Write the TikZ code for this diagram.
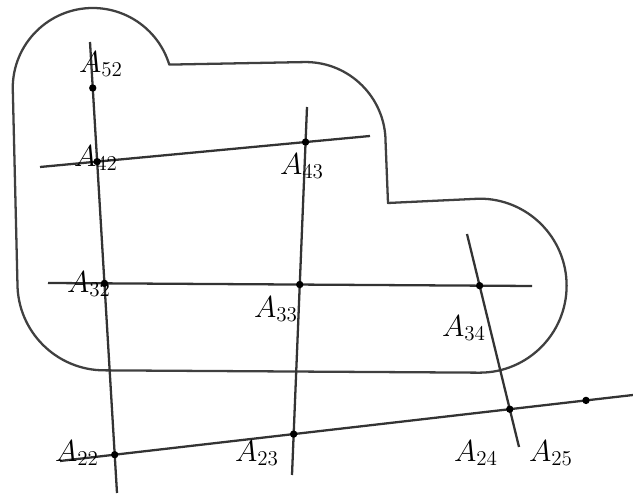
\documentclass[tikz,border=0pt]{standalone}
\usetikzlibrary{calc}
\begin{document}
\begin{tikzpicture}[
    x=0.2mm, y=0.2mm,
    gridline/.style={draw=black!80, line width=1.3pt},
    region/.style={draw=black!75, line width=1.3pt, line join=round},
    pt/.style={circle, fill=black, inner sep=0pt, minimum size=4.2pt},
    lbl/.style={font=\LARGE, inner sep=0pt}
]
\useasboundingbox (0,0) rectangle (633,496);

% End points of the lines
\coordinate (v2t) at (90,454);  \coordinate (v2b) at (117,3);
\coordinate (v3t) at (307,389); \coordinate (v3b) at (292,21);
\coordinate (v4t) at (467,262); \coordinate (v4b) at (519,49);
\coordinate (h4l) at (40,329);  \coordinate (h4r) at (370,360);
\coordinate (h3l) at (48,213);  \coordinate (h3r) at (532,210);
\coordinate (h2l) at (60,35);   \coordinate (h2r) at (633,101);

% Points
\coordinate (A52) at ($(v2t)!0.102!(v2b)$);
\coordinate (A42) at (intersection of v2t--v2b and h4l--h4r);
\coordinate (A43) at (intersection of v3t--v3b and h4l--h4r);
\coordinate (A32) at (intersection of v2t--v2b and h3l--h3r);
\coordinate (A33) at (intersection of v3t--v3b and h3l--h3r);
\coordinate (A34) at (intersection of v4t--v4b and h3l--h3r);
\coordinate (A22) at (intersection of v2t--v2b and h2l--h2r);
\coordinate (A23) at (intersection of v3t--v3b and h2l--h2r);
\coordinate (A24) at (intersection of v4t--v4b and h2l--h2r);
\coordinate (A25) at ($(h2l)!0.918!(h2r)$);

% Region
\draw[region] (A52) ++(180:80)
    arc[start angle=180, end angle=17, radius=80]
    -- ($(A43)+(0,80)$) arc[start angle=90, end angle=0, radius=80]
    -- (388,293)
    -- ($(A34)+(0,87)$) arc[start angle=90, end angle=-90, radius=87]
    -- ($(A32)+(0,-87)$) arc[start angle=270, end angle=180, radius=87]
    -- cycle;

% Lines
\draw[gridline] (v2t) -- (v2b);
\draw[gridline] (v3t) -- (v3b);
\draw[gridline] (v4t) -- (v4b);
\draw[gridline] (h4l) -- (h4r);
\draw[gridline] (h3l) -- (h3r);
\draw[gridline] (h2l) -- (h2r);

% Dots
\foreach \p in {52,42,43,32,33,34,22,23,24,25}
    \node[pt] (d\p) at (A\p) {};

% Labels
\node[lbl] (l52) at (101,432) {$A_{52}$};
\node[lbl] (l42) at (96,338) {$A_{42}$};
\node[lbl] (l43) at (302,330) {$A_{43}$};
\node[lbl] (l32) at (89,212) {$A_{32}$};
\node[lbl] (l33) at (276,187) {$A_{33}$};
\node[lbl] (l34) at (464,168) {$A_{34}$};
\node[lbl] (l22) at (77,43) {$A_{22}$};
\node[lbl] (l23) at (257,43) {$A_{23}$};
\node[lbl] (l24) at (476,43) {$A_{24}$};
\node[lbl] (l25) at (551,43) {$A_{25}$};

\end{tikzpicture}
\end{document}
